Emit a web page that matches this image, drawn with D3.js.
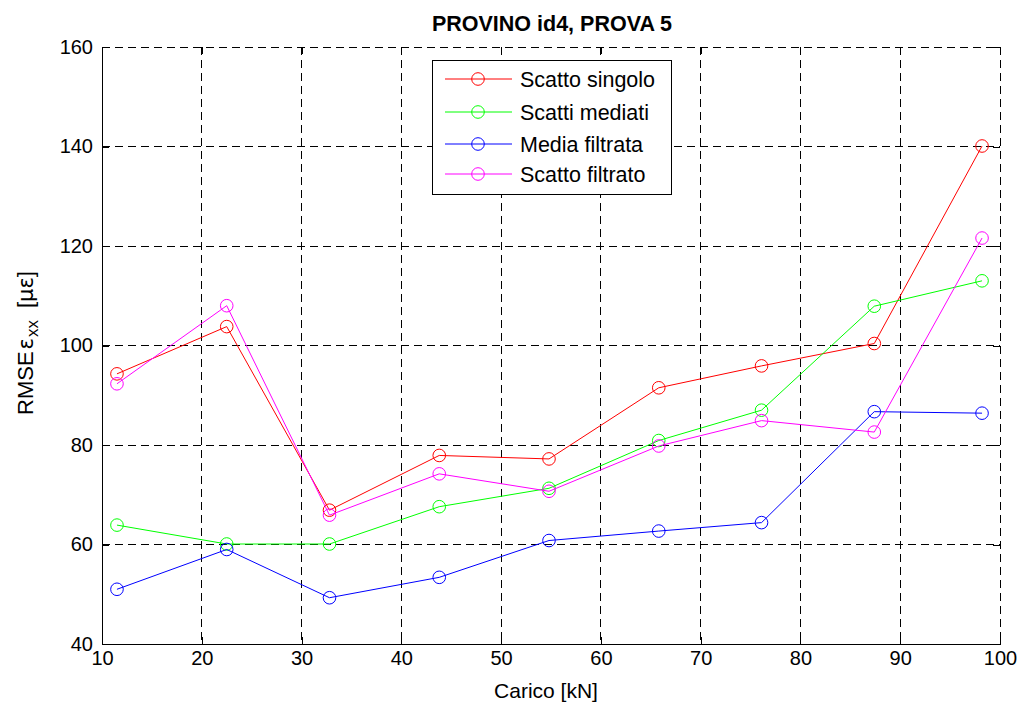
<!DOCTYPE html>
<html>
<head>
<meta charset="utf-8">
<script src="https://cdn.jsdelivr.net/npm/d3@7"></script>
<style>
  html, body { margin: 0; padding: 0; background: #fff; }
  svg { display: block; font-family: "Liberation Sans", Arial, Helvetica, sans-serif; }
</style>
</head>
<body>
<svg id="chart" width="1023" height="703"></svg>
<script>
// Load values (kN) at which each test was taken
const carico = [11.5, 22.5, 32.8, 43.8, 54.8, 65.8, 76.1, 87.4, 98.2];

// RMSE of the strain component eps_xx for each processing method
const scattoSingolo  = [94.3, 103.8, 66.9, 77.9, 77.2, 91.5, 95.9, 100.4, 140.1];
const scattiMediati  = [63.9, 60.1, 60.1, 67.6, 71.3, 80.9, 87.0, 107.9, 113.0];
const mediaFiltrata  = [51.0, 59.0, 49.3, 53.4, 60.8, 62.7, 64.4, 86.7, 86.4];
const scattoFiltrato = [92.3, 108.0, 65.9, 74.2, 70.7, 79.8, 84.9, 82.6, 121.6];

const seriesNames  = ["Scatto singolo", "Scatti mediati", "Media filtrata", "Scatto filtrato"];
const seriesColors = ["#ff0000", "#00ff00", "#0000ff", "#ff00ff"];
const seriesValues = [scattoSingolo, scattiMediati, mediaFiltrata, scattoFiltrato];

const xTicks = [10, 20, 30, 40, 50, 60, 70, 80, 90, 100];
const yTicks = [40, 60, 80, 100, 120, 140, 160];

(function draw() {
  const svg = d3.select("#chart");
  const pL = 102, pR = 1000, pT = 47, pB = 644;

  const x = d3.scaleLinear().domain([10, 100]).range([pL, pR]);
  const y = d3.scaleLinear().domain([40, 160]).range([pB, pT]);

  const tickFont = 20, labelFont = 21, legendFont = 21.5;

  // Dashed grid
  const grid = svg.append("g").attr("stroke", "#000").attr("stroke-width", 1)
    .attr("stroke-dasharray", "8,5").attr("shape-rendering", "crispEdges");
  xTicks.slice(1, -1).forEach(t => {
    grid.append("line").attr("x1", x(t)).attr("x2", x(t)).attr("y1", pT).attr("y2", pB);
  });
  yTicks.slice(1, -1).forEach(t => {
    grid.append("line").attr("x1", pL).attr("x2", pR).attr("y1", y(t)).attr("y2", y(t));
  });
  // Dashed grid lines also run along the top and right edges
  grid.append("line").attr("x1", pL).attr("x2", pR).attr("y1", pT).attr("y2", pT);
  grid.append("line").attr("x1", pR).attr("x2", pR).attr("y1", pT).attr("y2", pB);

  // Axes (bottom and left) with inward ticks; mirrored ticks top and right
  const tickLen = 7;
  const xAxis = d3.axisBottom(x).tickValues(xTicks).tickSizeInner(-tickLen).tickSizeOuter(0).tickPadding(7);
  const yAxis = d3.axisLeft(y).tickValues(yTicks).tickSizeInner(-tickLen).tickSizeOuter(0).tickPadding(9);

  const gx = svg.append("g").attr("transform", `translate(0,${pB})`).call(xAxis);
  const gy = svg.append("g").attr("transform", `translate(${pL},0)`).call(yAxis);
  [gx, gy].forEach(g => {
    g.selectAll("path").attr("stroke", "#000").attr("shape-rendering", "crispEdges");
    g.selectAll("line").attr("stroke", "#000").attr("shape-rendering", "crispEdges");
    g.selectAll("text").attr("fill", "#000").attr("font-size", tickFont)
      .attr("font-family", "'Liberation Sans', Arial, sans-serif");
  });
  gx.selectAll("text").attr("dy", "0.71em");

  const gxTop = svg.append("g").attr("transform", `translate(0,${pT})`)
    .call(d3.axisTop(x).tickValues(xTicks).tickSizeInner(-tickLen).tickSizeOuter(0).tickFormat(""));
  const gyRight = svg.append("g").attr("transform", `translate(${pR},0)`)
    .call(d3.axisRight(y).tickValues(yTicks).tickSizeInner(-tickLen).tickSizeOuter(0).tickFormat(""));
  [gxTop, gyRight].forEach(g => {
    g.select("path").remove();
    g.selectAll("line").attr("stroke", "#000").attr("shape-rendering", "crispEdges");
  });

  // Data series: lines with open circle markers
  const line = d3.line().x((d, i) => x(carico[i])).y(d => y(d));
  seriesValues.forEach((vals, s) => {
    const g = svg.append("g");
    g.append("path").datum(vals).attr("d", line)
      .attr("fill", "none").attr("stroke", seriesColors[s]).attr("stroke-width", 1);
    g.selectAll("circle").data(vals).join("circle")
      .attr("cx", (d, i) => x(carico[i])).attr("cy", d => y(d)).attr("r", 6.3)
      .attr("fill", "none").attr("stroke", seriesColors[s]).attr("stroke-width", 1);
  });

  // Legend
  const legend = svg.append("g");
  legend.append("rect").attr("x", 432).attr("y", 60).attr("width", 239).attr("height", 134)
    .attr("fill", "#fff").attr("stroke", "#000").attr("stroke-width", 1).attr("shape-rendering", "crispEdges");
  const rowY = [79, 112, 144, 174];
  seriesNames.forEach((name, s) => {
    const ry = rowY[s];
    legend.append("line").attr("x1", 445).attr("x2", 512).attr("y1", ry).attr("y2", ry)
      .attr("stroke", seriesColors[s]).attr("stroke-width", 1);
    legend.append("circle").attr("cx", 478).attr("cy", ry).attr("r", 6.3)
      .attr("fill", "none").attr("stroke", seriesColors[s]).attr("stroke-width", 1);
    legend.append("text").attr("x", 520).attr("y", ry).attr("dy", "0.35em")
      .attr("font-size", legendFont).attr("fill", "#000").text(name);
  });

  // Title
  svg.append("text").attr("x", 552).attr("y", 31).attr("text-anchor", "middle")
    .attr("font-size", 21.5).attr("font-weight", "bold").attr("fill", "#000")
    .text("PROVINO id4, PROVA 5");

  // X axis label
  svg.append("text").attr("x", 546).attr("y", 698).attr("text-anchor", "middle")
    .attr("font-size", labelFont).attr("fill", "#000").text("Carico [kN]");

  // Y axis label with subscript
  const yl = svg.append("text").attr("transform", "translate(33,343) rotate(-90)")
    .attr("text-anchor", "middle").attr("font-size", 22).attr("fill", "#000");
  yl.append("tspan").text("RMSE");
  yl.append("tspan").attr("dx", 2).attr("font-family", "'DejaVu Sans', sans-serif").attr("font-size", 21).text("ε");
  yl.append("tspan").attr("font-size", 17).attr("dy", 5).attr("dx", 1).text("xx");
  yl.append("tspan").attr("dy", -5).attr("dx", 12).text("[");
  yl.append("tspan").attr("font-family", "'DejaVu Sans', sans-serif").attr("font-size", 21).text("με");
  yl.append("tspan").text("]");
})();
</script>
</body>
</html>
